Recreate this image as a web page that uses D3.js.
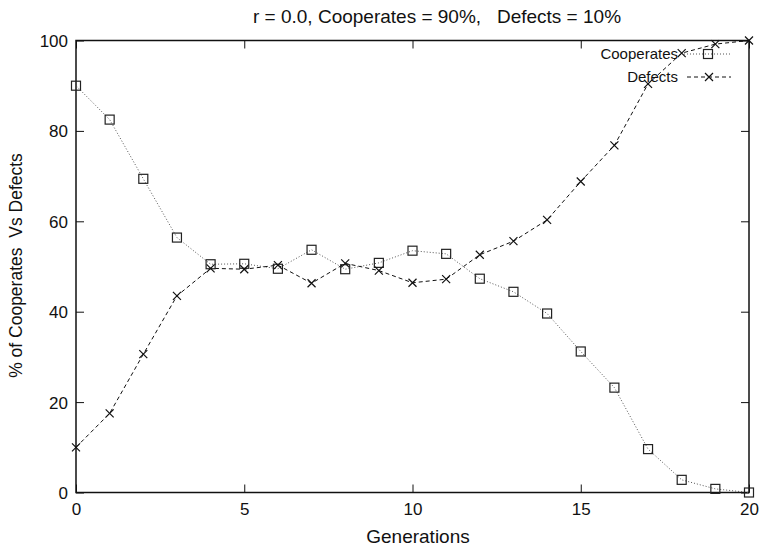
<!DOCTYPE html>
<html>
<head>
<meta charset="utf-8">
<script src="https://cdn.jsdelivr.net/npm/d3@7"></script>
<style>
  body { margin: 0; background: #fff; }
  svg { display: block; }
  text { font-family: "Liberation Sans", Arial, Helvetica, sans-serif; fill: #111; }
</style>
</head>
<body>
<svg id="chart" width="760" height="550"></svg>
<script>
const generations = d3.range(0, 21);
const cooperates = [90.0, 82.5, 69.4, 56.4, 50.5, 50.6, 49.5, 53.7, 49.4, 50.8, 53.5, 52.8, 47.3, 44.4, 39.6, 31.2, 23.2, 9.6, 2.8, 0.8, 0.0];
const defects    = [10.0, 17.5, 30.6, 43.5, 49.6, 49.4, 50.3, 46.3, 50.7, 49.1, 46.4, 47.2, 52.6, 55.6, 60.3, 68.8, 76.8, 90.4, 97.2, 99.2, 100.0];
const xTicks = [0, 5, 10, 15, 20];
const yTicks = [0, 20, 40, 60, 80, 100];
const title = "r = 0.0, Cooperates = 90%,   Defects = 10%";
const xLabel = "Generations";
const yLabel = "% of Cooperates  Vs Defects";
const seriesNames = ["Cooperates", "Defects"];

const svg = d3.select("#chart");
const L = 76, R = 749, T = 40.5, B = 492.5;
const x = d3.scaleLinear().domain([0, 20]).range([L, R]);
const y = d3.scaleLinear().domain([0, 100]).range([B, T]);

// Axes (inward ticks, mirrored)
const tickLen = 8;
const axB = svg.append("g").attr("transform", `translate(0,${B})`)
  .call(d3.axisBottom(x).tickValues(xTicks).tickSizeInner(-tickLen).tickSizeOuter(0).tickPadding(10));
const axT = svg.append("g").attr("transform", `translate(0,${T})`)
  .call(d3.axisTop(x).tickValues(xTicks).tickSizeInner(-tickLen).tickSizeOuter(0).tickFormat(""));
const axL = svg.append("g").attr("transform", `translate(${L},0)`)
  .call(d3.axisLeft(y).tickValues(yTicks).tickSizeInner(-tickLen).tickSizeOuter(0).tickPadding(8));
const axR = svg.append("g").attr("transform", `translate(${R},0)`)
  .call(d3.axisRight(y).tickValues(yTicks).tickSizeInner(-tickLen).tickSizeOuter(0).tickFormat(""));
[axB, axT, axL, axR].forEach(g => {
  g.select(".domain").remove();
  g.selectAll(".tick line").attr("stroke", "#111").attr("stroke-width", 1);
  g.selectAll(".tick text").style("font-size", "17px").style("font-family", "Liberation Sans, Arial, sans-serif").attr("fill", "#111");
});
axL.selectAll(".tick text").attr("dy", "0.35em");
axB.selectAll(".tick text").attr("dy", "0.71em");

// frame
svg.append("rect").attr("x", L).attr("y", T).attr("width", R - L).attr("height", B - T)
  .attr("fill", "none").attr("stroke", "#111").attr("stroke-width", 1.5);

// Titles
svg.append("text").attr("x", 437).attr("y", 23).attr("text-anchor", "middle")
  .style("font-size", "19px").style("white-space", "pre").attr("xml:space", "preserve").text(title);
svg.append("text").attr("x", 418).attr("y", 543).attr("text-anchor", "middle")
  .style("font-size", "19px").text(xLabel);
svg.append("text").attr("transform", `translate(22,${265.5}) rotate(-90)`).attr("text-anchor", "middle")
  .style("font-size", "17.5px").style("white-space", "pre").attr("xml:space", "preserve").text(yLabel);

const line = d3.line().x((d, i) => x(generations[i])).y(d => y(d));

// Cooperates: dotted gray with squares
svg.append("path").datum(cooperates).attr("d", line).attr("fill", "none")
  .attr("stroke", "#555").attr("stroke-width", 1).attr("stroke-dasharray", "1,2");
// Defects: dashed black with crosses
svg.append("path").datum(defects).attr("d", line).attr("fill", "none")
  .attr("stroke", "#111").attr("stroke-width", 1).attr("stroke-dasharray", "4,3");

const sq = 9, cr = 4;
function square(g, cx, cy) {
  g.append("rect").attr("x", cx - sq / 2).attr("y", cy - sq / 2).attr("width", sq).attr("height", sq)
    .attr("fill", "none").attr("stroke", "#222").attr("stroke-width", 1.2);
}
function cross(g, cx, cy) {
  g.append("path").attr("d", `M${cx - cr},${cy - cr}L${cx + cr},${cy + cr}M${cx - cr},${cy + cr}L${cx + cr},${cy - cr}`)
    .attr("stroke", "#111").attr("stroke-width", 1.2).attr("fill", "none");
}
const mk = svg.append("g");
cooperates.forEach((v, i) => square(mk, x(generations[i]), y(v)));
defects.forEach((v, i) => cross(mk, x(generations[i]), y(v)));

// Legend
const lg = svg.append("g");
lg.append("text").attr("x", 678).attr("y", 54).attr("dy", "0.35em").attr("text-anchor", "end")
  .style("font-size", "15px").text(seriesNames[0]);
lg.append("line").attr("x1", 684).attr("x2", 731).attr("y1", 54).attr("y2", 54)
  .attr("stroke", "#555").attr("stroke-dasharray", "1,2");
square(lg, 708, 54);
lg.append("text").attr("x", 678).attr("y", 77).attr("dy", "0.35em").attr("text-anchor", "end")
  .style("font-size", "15px").text(seriesNames[1]);
lg.append("line").attr("x1", 687).attr("x2", 731).attr("y1", 77).attr("y2", 77)
  .attr("stroke", "#111").attr("stroke-dasharray", "4,3");
cross(lg, 709, 77);
</script>
</body>
</html>
